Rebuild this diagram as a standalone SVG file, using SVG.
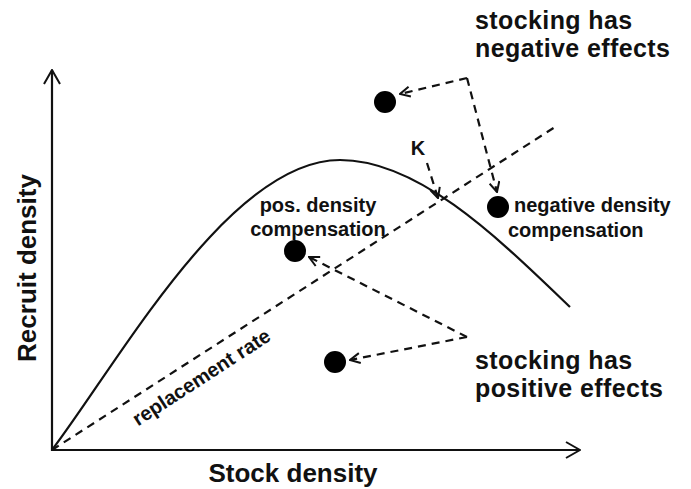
<svg xmlns="http://www.w3.org/2000/svg" width="691" height="489" viewBox="0 0 691 489">
<style>
.t{font-family:"Liberation Sans",Arial,sans-serif;font-weight:bold;fill:#111}
.big{font-size:26px}
.lab{font-size:25px;letter-spacing:0.4px}
.mid{font-size:20px}
.solid{fill:none;stroke:#111;stroke-width:2.2}
.dash{fill:none;stroke:#111;stroke-width:2.2;stroke-dasharray:8,6}
.dot{fill:#000}
</style>
<defs>
<marker id="ah" viewBox="0 0 12 12" refX="11" refY="6" markerWidth="12" markerHeight="12" markerUnits="userSpaceOnUse" orient="auto">
<path d="M1,1 L11,6 L1,11" fill="none" stroke="#111" stroke-width="2"/>
</marker>
<marker id="ax" viewBox="0 0 16 18" refX="15" refY="9" markerWidth="16" markerHeight="18" markerUnits="userSpaceOnUse" orient="auto">
<path d="M1,1 L15,9 L1,17" fill="none" stroke="#111" stroke-width="2"/>
</marker>
</defs>
<g id="axes">
<line class="solid" x1="52" y1="451" x2="52" y2="70" marker-end="url(#ax)"/>
<line class="solid" x1="51" y1="450" x2="580" y2="450" marker-end="url(#ax)"/>
<text class="t big" x="293" y="482" text-anchor="middle">Stock density</text>
<text class="t big" transform="translate(36,268) rotate(-90)" text-anchor="middle">Recruit density</text>
</g>
<g id="curve">
<path class="solid" d="M52,450 C120,360 230,160 340,160 C420,160 500,240 570,307"/>
</g>
<g id="replacement">
<line class="dash" x1="52" y1="450" x2="555" y2="127"/>
<text class="t mid" transform="translate(205,383) rotate(-33)" text-anchor="middle">replacement rate</text>
</g>
<g id="K">
<text class="t mid" x="418" y="155" text-anchor="middle">K</text>
</g>
<g id="pos-comp">
<circle class="dot" cx="295" cy="251" r="11"/>
<text class="t mid" x="318" y="212" text-anchor="middle">pos. density</text>
<text class="t mid" x="318" y="236" text-anchor="middle">compensation</text>
</g>
<g id="neg-comp">
<circle class="dot" cx="498" cy="207" r="11"/>
<text class="t mid" x="514" y="212">negative density</text>
<text class="t mid" x="508" y="237">compensation</text>
</g>
<g id="neg-dot">
<circle class="dot" cx="385" cy="102" r="11"/>
</g>
<g id="pos-dot">
<circle class="dot" cx="335" cy="362" r="11"/>
</g>
<g id="neg-effects">
<text class="t lab" x="475" y="29">stocking has</text>
<text class="t lab" x="475" y="57">negative effects</text>
</g>
<g id="pos-effects">
<text class="t lab" x="475" y="369">stocking has</text>
<text class="t lab" x="475" y="397">positive effects</text>
</g>
<g id="connectors">
<path class="dash" d="M467,78 L400,94" marker-end="url(#ah)"/>
<path class="dash" d="M467,78 L497,192" marker-end="url(#ah)"/>
<path class="dash" d="M427,163 L438,198" marker-end="url(#ah)"/>
<path class="dash" d="M467,337 L309,257" marker-end="url(#ah)"/>
<path class="dash" d="M467,337 L350,360" marker-end="url(#ah)"/>
</g>
</svg>
